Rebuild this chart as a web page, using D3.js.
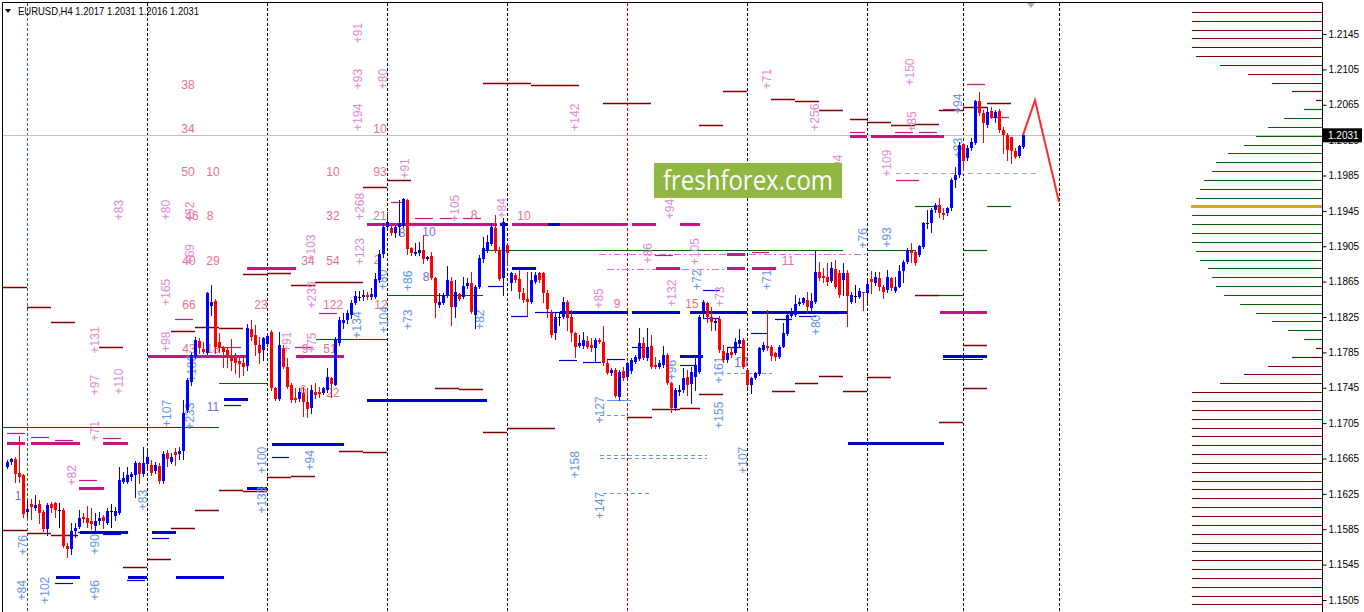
<!DOCTYPE html>
<html><head><meta charset="utf-8">
<script src="https://cdn.jsdelivr.net/npm/d3@7"></script>
<style>
body{margin:0;background:#fff;overflow:hidden}
svg{display:block}
text{font-family:"Liberation Sans",Arial,sans-serif}
</style></head>
<body><svg id="c" width="1364" height="612"></svg>
<script>
// ---------- DATA ----------
const symbol = "EURUSD", timeframe = "H4";
const open = [1.1655,1.1661,1.1664,1.1649,1.1646,1.1605,1.1614,1.1609,1.1614,1.1605,1.1585,1.1614,1.1615,1.1607,1.1607,1.1566,1.1563,1.1583,1.1588,1.1599,1.1598,1.1594,1.1589,1.1594,1.1599,1.1592,1.1606,1.1600,1.1603,1.1638,1.1638,1.1644,1.1646,1.1660,1.1648,1.1659,1.1658,1.1651,1.1656,1.1640,1.1671,1.1661,1.1672,1.1670,1.1673,1.1720,1.1751,1.1780,1.1798,1.1789,1.1784,1.1837,1.1843,1.1797,1.1791,1.1788,1.1780,1.1779,1.1775,1.1773,1.1770,1.1811,1.1805,1.1793,1.1788,1.1795,1.1808,1.1745,1.1732,1.1790,1.1768,1.1748,1.1733,1.1732,1.1739,1.1729,1.1722,1.1740,1.1740,1.1739,1.1742,1.1756,1.1748,1.1796,1.1818,1.1822,1.1827,1.1841,1.1848,1.1848,1.1850,1.1848,1.1848,1.1867,1.1896,1.1927,1.1926,1.1920,1.1927,1.1928,1.1957,1.1903,1.1896,1.1897,1.1901,1.1891,1.1894,1.1869,1.1839,1.1841,1.1850,1.1866,1.1836,1.1851,1.1848,1.1860,1.1863,1.1827,1.1859,1.1891,1.1901,1.1908,1.1926,1.1901,1.1869,1.1906,1.1863,1.1872,1.1868,1.1852,1.1845,1.1842,1.1865,1.1875,1.1875,1.1852,1.1830,1.1807,1.1825,1.1825,1.1842,1.1825,1.1807,1.1792,1.1792,1.1798,1.1793,1.1790,1.1799,1.1797,1.1773,1.1762,1.1765,1.1735,1.1764,1.1757,1.1764,1.1774,1.1777,1.1796,1.1779,1.1792,1.1771,1.1768,1.1771,1.1782,1.1750,1.1722,1.1740,1.1742,1.1757,1.1749,1.1757,1.1763,1.1832,1.1841,1.1825,1.1818,1.1823,1.1787,1.1776,1.1785,1.1784,1.1795,1.1799,1.1765,1.1748,1.1756,1.1761,1.1788,1.1792,1.1791,1.1784,1.1780,1.1791,1.1806,1.1826,1.1827,1.1840,1.1841,1.1844,1.1835,1.1842,1.1876,1.1871,1.1870,1.1866,1.1879,1.1875,1.1867,1.1875,1.1842,1.1849,1.1848,1.1853,1.1852,1.1868,1.1863,1.1869,1.1859,1.1856,1.1869,1.1854,1.1859,1.1877,1.1887,1.1900,1.1899,1.1895,1.1904,1.1930,1.1931,1.1946,1.1952,1.1943,1.1943,1.1948,1.1980,1.1986,1.2021,1.2005,1.2016,1.2022,1.2069,1.2056,1.2042,1.2058,1.2050,1.2058,1.2036,1.2031,1.2029,1.2013,1.2007,1.2017];
const high = [1.1663,1.1666,1.1667,1.1690,1.1647,1.1618,1.1619,1.1624,1.1618,1.1607,1.1615,1.1616,1.1616,1.1615,1.1609,1.1569,1.1592,1.1592,1.1607,1.1603,1.1611,1.1609,1.1603,1.1605,1.1601,1.1609,1.1614,1.1610,1.1655,1.1650,1.1655,1.1650,1.1662,1.1661,1.1678,1.1677,1.1663,1.1661,1.1660,1.1673,1.1675,1.1671,1.1677,1.1678,1.1731,1.1756,1.1784,1.1802,1.1801,1.1797,1.1853,1.1861,1.1845,1.1807,1.1792,1.1790,1.1800,1.1784,1.1780,1.1781,1.1817,1.1822,1.1816,1.1802,1.1802,1.1807,1.1810,1.1746,1.1808,1.1793,1.1779,1.1750,1.1745,1.1745,1.1746,1.1745,1.1748,1.1750,1.1746,1.1746,1.1767,1.1757,1.1802,1.1825,1.1830,1.1833,1.1844,1.1854,1.1854,1.1856,1.1853,1.1858,1.1875,1.1901,1.1931,1.1944,1.1928,1.1929,1.1957,1.1960,1.1958,1.1904,1.1909,1.1910,1.1918,1.1894,1.1899,1.1870,1.1852,1.1852,1.1883,1.1870,1.1867,1.1852,1.1870,1.1869,1.1876,1.1861,1.1895,1.1915,1.1918,1.1931,1.1940,1.1904,1.1937,1.1909,1.1876,1.1875,1.1878,1.1858,1.1876,1.1876,1.1876,1.1876,1.1876,1.1856,1.1833,1.1830,1.1831,1.1848,1.1844,1.1833,1.1808,1.1805,1.1808,1.1804,1.1801,1.1801,1.1801,1.1815,1.1776,1.1767,1.1767,1.1765,1.1768,1.1774,1.1779,1.1782,1.1813,1.1802,1.1813,1.1805,1.1780,1.1776,1.1792,1.1784,1.1752,1.1745,1.1748,1.1767,1.1765,1.1768,1.1779,1.1827,1.1844,1.1842,1.1836,1.1824,1.1826,1.1793,1.1790,1.1791,1.1801,1.1811,1.1801,1.1766,1.1757,1.1763,1.1791,1.1797,1.1833,1.1793,1.1785,1.1793,1.1818,1.1830,1.1835,1.1850,1.1847,1.1848,1.1853,1.1852,1.1900,1.1887,1.1880,1.1886,1.1887,1.1889,1.1878,1.1886,1.1878,1.1853,1.1861,1.1858,1.1853,1.1867,1.1877,1.1876,1.1876,1.1861,1.1878,1.1870,1.1870,1.1884,1.1889,1.1903,1.1909,1.1901,1.1906,1.1932,1.1946,1.1948,1.1954,1.1960,1.1948,1.1949,1.1982,1.1995,1.2023,1.2022,1.2019,1.2027,1.2070,1.2079,1.2059,1.2062,1.2062,1.2059,1.2060,1.2040,1.2033,1.2029,1.2016,1.2019,1.2031];
const low = [1.1654,1.1659,1.1638,1.1638,1.1599,1.1599,1.1597,1.1607,1.1592,1.1583,1.1578,1.1605,1.1599,1.1588,1.1565,1.1554,1.1557,1.1576,1.1586,1.1593,1.1588,1.1585,1.1583,1.1591,1.1586,1.1591,1.1588,1.1595,1.1602,1.1637,1.1637,1.1641,1.1621,1.1637,1.1645,1.1655,1.1646,1.1649,1.1637,1.1637,1.1656,1.1660,1.1658,1.1664,1.1664,1.1718,1.1748,1.1779,1.1784,1.1784,1.1783,1.1827,1.1784,1.1785,1.1768,1.1768,1.1765,1.1762,1.1757,1.1759,1.1765,1.1799,1.1782,1.1773,1.1776,1.1792,1.1742,1.1731,1.1731,1.1767,1.1745,1.1729,1.1729,1.1730,1.1713,1.1712,1.1716,1.1733,1.1734,1.1738,1.1740,1.1735,1.1748,1.1793,1.1813,1.1818,1.1824,1.1840,1.1844,1.1844,1.1845,1.1845,1.1846,1.1865,1.1893,1.1923,1.1918,1.1915,1.1918,1.1927,1.1896,1.1895,1.1895,1.1895,1.1886,1.1889,1.1868,1.1825,1.1836,1.1840,1.1848,1.1816,1.1825,1.1844,1.1846,1.1858,1.1830,1.1813,1.1858,1.1887,1.1899,1.1906,1.1899,1.1867,1.1850,1.1884,1.1856,1.1865,1.1846,1.1842,1.1827,1.1841,1.1863,1.1865,1.1842,1.1825,1.1802,1.1800,1.1816,1.1824,1.1810,1.1798,1.1780,1.1791,1.1790,1.1790,1.1787,1.1774,1.1796,1.1771,1.1761,1.1759,1.1735,1.1731,1.1754,1.1756,1.1762,1.1773,1.1776,1.1777,1.1776,1.1767,1.1767,1.1767,1.1768,1.1749,1.1718,1.1720,1.1737,1.1740,1.1737,1.1728,1.1742,1.1762,1.1825,1.1819,1.1810,1.1810,1.1785,1.1774,1.1774,1.1780,1.1783,1.1791,1.1767,1.1746,1.1739,1.1755,1.1759,1.1787,1.1788,1.1776,1.1776,1.1779,1.1791,1.1805,1.1825,1.1826,1.1839,1.1840,1.1831,1.1833,1.1841,1.1867,1.1865,1.1861,1.1865,1.1858,1.1848,1.1850,1.1815,1.1841,1.1842,1.1846,1.1833,1.1842,1.1852,1.1861,1.1856,1.1846,1.1853,1.1856,1.1853,1.1859,1.1865,1.1886,1.1887,1.1884,1.1894,1.1903,1.1926,1.1921,1.1944,1.1938,1.1936,1.1940,1.1946,1.1972,1.1983,1.1991,1.2003,1.2014,1.2021,1.2053,1.2023,1.2040,1.2050,1.2045,1.2034,1.2010,1.2003,1.1999,1.2005,1.2006,1.2016];
const close = [1.1661,1.1664,1.1648,1.1644,1.1602,1.1608,1.1610,1.1612,1.1603,1.1585,1.1612,1.1609,1.1607,1.1607,1.1566,1.1563,1.1583,1.1586,1.1598,1.1597,1.1592,1.1591,1.1594,1.1598,1.1594,1.1606,1.1606,1.1606,1.1641,1.1643,1.1646,1.1648,1.1660,1.1648,1.1660,1.1667,1.1649,1.1658,1.1640,1.1670,1.1664,1.1667,1.1669,1.1673,1.1716,1.1754,1.1782,1.1799,1.1790,1.1785,1.1852,1.1842,1.1791,1.1790,1.1785,1.1780,1.1775,1.1773,1.1772,1.1768,1.1813,1.1802,1.1793,1.1784,1.1801,1.1804,1.1745,1.1732,1.1793,1.1768,1.1746,1.1731,1.1731,1.1740,1.1729,1.1721,1.1742,1.1737,1.1738,1.1745,1.1757,1.1749,1.1800,1.1822,1.1822,1.1830,1.1841,1.1849,1.1848,1.1850,1.1848,1.1851,1.1868,1.1896,1.1927,1.1932,1.1920,1.1927,1.1931,1.1958,1.1902,1.1897,1.1899,1.1901,1.1891,1.1893,1.1869,1.1841,1.1842,1.1850,1.1867,1.1836,1.1853,1.1845,1.1860,1.1863,1.1831,1.1859,1.1892,1.1903,1.1910,1.1927,1.1900,1.1868,1.1932,1.1897,1.1875,1.1867,1.1853,1.1844,1.1842,1.1867,1.1872,1.1867,1.1852,1.1834,1.1805,1.1825,1.1825,1.1842,1.1824,1.1807,1.1791,1.1796,1.1799,1.1791,1.1790,1.1799,1.1797,1.1773,1.1762,1.1765,1.1736,1.1763,1.1756,1.1773,1.1776,1.1780,1.1796,1.1779,1.1791,1.1768,1.1768,1.1773,1.1782,1.1750,1.1722,1.1742,1.1742,1.1756,1.1748,1.1763,1.1770,1.1825,1.1842,1.1825,1.1819,1.1820,1.1788,1.1776,1.1784,1.1782,1.1797,1.1799,1.1768,1.1748,1.1756,1.1762,1.1790,1.1793,1.1790,1.1781,1.1780,1.1791,1.1807,1.1827,1.1830,1.1840,1.1842,1.1847,1.1836,1.1843,1.1876,1.1869,1.1869,1.1865,1.1880,1.1859,1.1850,1.1875,1.1849,1.1850,1.1849,1.1854,1.1852,1.1862,1.1865,1.1870,1.1859,1.1853,1.1870,1.1858,1.1859,1.1877,1.1887,1.1901,1.1897,1.1886,1.1905,1.1931,1.1931,1.1946,1.1952,1.1943,1.1940,1.1948,1.1980,1.1986,1.2019,1.2001,1.2016,1.2023,1.2069,1.2056,1.2044,1.2057,1.2051,1.2057,1.2036,1.2031,1.2014,1.2013,1.2006,1.2018,1.2031];

const priceTicks = [1.2145,1.2105,1.2065,1.2025,1.1985,1.1945,1.1905,1.1865,1.1825,1.1785,1.1745,1.1705,1.1665,1.1625,1.1585,1.1545,1.1505];
const currentPrice = 1.2031;

// week separators (bar index)
const separators = [5,35,65,95,125,155,185,215,239,263];
const separatorKind = ["g","k","k","k","k","r","k","k","k","k"];

// volume profile (price level, volume)
const profilePrice = [1.2170,1.2160,1.2150,1.2140,1.2130,1.2120,1.2110,1.2100,1.2090,1.2080,1.2070,1.2060,1.2050,1.2040,1.2030,1.2020,1.2010,1.2000,1.1990,1.1980,1.1970,1.1960,1.1950,1.1940,1.1930,1.1920,1.1910,1.1900,1.1890,1.1880,1.1870,1.1860,1.1850,1.1840,1.1830,1.1820,1.1810,1.1800,1.1790,1.1780,1.1770,1.1760,1.1750,1.1740,1.1730,1.1720,1.1710,1.1700,1.1690,1.1680,1.1670,1.1660,1.1650,1.1640,1.1630,1.1620,1.1610,1.1600,1.1590,1.1580,1.1570,1.1560,1.1550,1.1540,1.1530,1.1520,1.1510,1.1500];
const profileVol = [130,130,130,130,130,126,102,74,50,30,6,18,38,54,66,78,94,106,110,118,122,126,131,130,130,130,130,126,122,114,110,106,98,82,66,50,34,18,6,30,54,78,102,130,130,130,130,130,130,130,130,130,130,130,130,130,130,130,130,130,130,130,130,130,130,130,130,130];
const valueAreaHigh = 1.2060, valueAreaLow = 1.1800, pocPrice = 1.1950;

// level segments: [startBar, endBar, price]
const segMaroon = [[-1.75,5,1.1859],[5,11,1.1836],[11,17,1.1819],[23,29,1.1791],[-1,5,1.1584],[5,11,1.1581],[11,17.75,1.1578],[17.75,30.25,1.1582],[29,35,1.1542],[35,41,1.1551],[41,47,1.1586],[47,53,1.1607],[53,59,1.1629],[59,65,1.1628],[65,71,1.1644],[71,77,1.1645],[83,89,1.1673],[89,95,1.1672],[41,47,1.1809],[47,53,1.1814],[53,59,1.1813],[59,65,1.1874],[65,71,1.1875],[71,77,1.1861],[77,89,1.1865],[89,95,1.1972],[95.25,101,1.1980],[107,113,1.1745],[113,119,1.1744],[119,125,1.1695],[125,137,1.1699],[119,131,1.2090],[131,143,1.2087],[149,161,1.2067],[173,179,1.2042],[179,185,1.2081],[191,197,1.2071],[197,203,1.2069],[203,209,1.2059],[155,161.25,1.1712],[161.25,168.25,1.1721],[168.25,173.25,1.1722],[173,179,1.1738],[191.25,197,1.1741],[197,202.75,1.1750],[203,209,1.1758],[209,215,1.1741],[215,221,1.1757],[210.75,215,1.2049],[215,221,1.2046],[221,227,1.2042],[227,233,1.2043],[233,239,1.2059],[239,245,1.2062],[245,251,1.2067],[233,239,1.1706],[239,245,1.1745],[239,245,1.1793],[227,233,1.1850]];
const segMagThick = [[0,4.5,1.1683],[6,18.25,1.1683],[24,30.25,1.1683],[18,24.25,1.1632],[35.25,60,1.1781],[72.25,84.25,1.1781],[60,72.25,1.1880],[90,122.5,1.1930],[126.25,135.25,1.1930],[138.25,155.25,1.1930],[156.25,162.25,1.1930],[168.25,173.25,1.1930],[162.25,168.25,1.1880],[180,184.5,1.1880],[186.25,192.25,1.1880],[180,184.5,1.1896],[210.75,215,1.2030],[216,234.25,1.2030],[233.25,245,1.1831]];
const segMagThin = [[0,4.5,1.1694],[6,10.5,1.1689],[12,16.5,1.1686],[24,28.5,1.1688],[18,22.5,1.1641],[42,46.5,1.1823],[53,58.5,1.1791],[72,76.5,1.1791],[78,82.5,1.1830],[96,99.5,1.1955],[102,106.5,1.1937],[108.25,112.5,1.1937],[114,118.5,1.1937],[162,166.5,1.1895],[186.25,190.5,1.1899],[210.75,214.5,1.2034],[222,226.5,1.2034],[228,232.5,1.2034],[234,238.25,1.2060],[245.75,250.5,1.2051],[240,244.5,1.2088],[222.25,228,1.1980]];
const segBlueThick = [[18.25,30.25,1.1582],[12.25,18.25,1.1531],[30.25,35,1.1531],[36.25,42.25,1.1582],[42.25,54.25,1.1531],[66.25,84.25,1.1681],[60,65,1.1632],[54.25,60.25,1.1732],[90,120,1.1731],[123.25,125,1.1930],[126.25,132.25,1.1880],[135.25,138.25,1.1930],[138.25,155.25,1.1831],[156.25,168.25,1.1831],[170.75,185,1.1831],[186.25,210,1.1831],[168.25,174,1.1781],[210.25,234.25,1.1683],[234,245,1.1781]];
const segBlueThin = [[24,28.5,1.1580],[12,16.5,1.1524],[30,34.5,1.1528],[36.25,40.5,1.1575],[66.25,70.5,1.1667],[54.25,58.5,1.1726],[120.25,124.25,1.1860],[126,130.25,1.1826],[132,138.25,1.1831],[138,142.5,1.1776],[144,148.5,1.1774],[150,154.5,1.1777],[156.25,158.75,1.1791],[168.25,172.5,1.1771],[174,178.25,1.1856],[174,178.25,1.1824],[180,184,1.1791],[186,190,1.1807],[192,196.25,1.1823],[198,202.25,1.1826],[204,208.25,1.1830],[234,244,1.1778]];
const segGreen = [[-1,53,1.1701],[53,65,1.1750],[77.25,95,1.1800],[95.25,119,1.1850],[119,209,1.1901],[215,227,1.1901],[239,245,1.1901],[227,233,1.1950],[245,251,1.1950],[233,239,1.1850]];
const segPinkDash = [[150,179.5,1.1879],[148,215,1.1896]];
const segGreyDash = [[222.25,258.25,1.1988]];
const segBlueDash = [[148.25,155,1.1714],[180,191.25,1.1762],[182.5,185.75,1.1780],[148.25,175,1.1669],[148.25,175,1.1665],[149,161,1.1626]];
const segBlueLine = [[150,156,1.1731]];

// labels: [text, bar, price]
const lblSalmon = [["38",45.25,1.2087],["34",45.25,1.2038],["50",45.25,1.1989],["10",51.5,1.1989],["46",46.25,1.1939],["8",50.75,1.1939],["40",45.5,1.1888],["29",51.5,1.1888],["66",45.5,1.1839],["23",63.5,1.1839],["43",45.5,1.1789],["18",51.5,1.1789],["10",81.5,1.1989],["32",81.5,1.1939],["34",75.25,1.1888],["54",81.5,1.1888],["122",81.5,1.1839],["51",80.75,1.1789],["9",74.5,1.1789],["22",81.5,1.1739],["6",74,1.1742],["21",93.25,1.1939],["2",92.5,1.1889],["12",93.5,1.1839],["10",93.25,1.2038],["93",93.25,1.1989],["8",116.75,1.1940],["10",129.25,1.1939],["9",152.5,1.1840],["15",171.25,1.1840],["11",195.25,1.1888]];
const lblLavender = [["11",51.5,1.1723],["10",105.5,1.1921],["8",98.75,1.1920],["8",104.75,1.1870],["1",2.75,1.1623],["10",183.5,1.1773]];
const lblPinkV = [["+91",87.75,1.2146],["+93",87.75,1.2094],["+80",94,1.2094],["+194",87.75,1.2051],["+142",142,1.2051],["+71",190,1.2094],["+150",225.75,1.2102],["+256",202,1.2051],["+85",226.25,1.2046],["+109",220,1.1999],["+83",28,1.1946],["+80",39.75,1.1946],["+92",45.75,1.1944],["+268",88.25,1.1950],["+123",88.25,1.1899],["+105",112,1.1948],["+84",123.75,1.1948],["+94",165.75,1.1947],["+94",207.75,1.1997],["+91",99.5,1.1993],["+86",160.25,1.1897],["+105",172,1.1899],["+132",166.25,1.1852],["+73",178.25,1.1848],["+85",148,1.1846],["+69",45.75,1.1896],["+165",39.75,1.1853],["+98",39.75,1.1797],["+103",76,1.1903],["+239",76.25,1.1850],["+75",76.25,1.1796],["+91",70,1.1797],["+131",22,1.1799],["+97",22,1.1748],["+110",28,1.1752],["+71",22,1.1696],["+82",16.25,1.1646]];
const lblBlueV = [["+76",4,1.1567],["+84",3.75,1.1516],["+102",9.5,1.1516],["+96",22,1.1516],["+90",22,1.1568],["+83",34,1.1618],["+107",40,1.1716],["+233",45.75,1.1713],["+186",46.25,1.1767],["+100",63.75,1.1663],["+133",63.75,1.1618],["+94",75.75,1.1663],["+134",87.5,1.1816],["+104",94.25,1.1822],["+80",94,1.1867],["+86",100.25,1.1866],["+73",100.25,1.1822],["+82",118.25,1.1822],["+127",148.25,1.1720],["+158",142,1.1658],["+147",148.25,1.1612],["+155",178,1.1714],["+107",184,1.1663],["+161",178,1.1765],["+72",172.5,1.1867],["+96",166.25,1.1765],["+71",190,1.1867],["+80",202.25,1.1816],["+76",214,1.1914],["+93",220,1.1915],["+83",237.75,1.2016],["+94",237.75,1.2066]];

// forecast path
const forecastBar = [254,257,263];
const forecastPrice = [1.2031,1.2070,1.1955];

// ---------- DRAW ----------
const W=1364,H=612,R=1322;
const x=d3.scaleLinear().domain([0,254]).range([7,1023]);
const y=d3.scaleLinear().domain([1.1505,1.2145]).range([600,34]);
const svg=d3.select("#c");
svg.append("rect").attr("width",W).attr("height",H).attr("fill","#fff");
svg.append("defs").append("clipPath").attr("id","clip").append("rect").attr("x",3).attr("y",3).attr("width",R-3).attr("height",H-3);
const g=svg.append("g").attr("clip-path","url(#clip)");
const py=p=>Math.round(y(p))+0.5;

// separators
const sepColor={g:"#1e6b1e",k:"#000",r:"#c00000"};
g.append("g").selectAll("line").data(separators).join("line")
 .attr("x1",d=>Math.round(x(d))+0.5).attr("x2",d=>Math.round(x(d))+0.5)
 .attr("y1",3).attr("y2",H).attr("stroke",(d,i)=>sepColor[separatorKind[i]])
 .attr("stroke-dasharray","3,2");

// current price line
g.append("line").attr("x1",3).attr("x2",R).attr("y1",py(currentPrice)).attr("y2",py(currentPrice)).attr("stroke","#c0c0c0");

// profile
const xv=d3.scaleLinear().domain([0,130]).range([R,R-130]);
g.append("g").selectAll("line").data(profilePrice).join("line")
 .attr("x1",(d,i)=>xv(profileVol[i])).attr("x2",R)
 .attr("y1",d=>py(d)).attr("y2",d=>py(d))
 .attr("stroke",d=>Math.abs(d-pocPrice)<1e-6?"#daa520":(d<=valueAreaHigh+1e-6&&d>=valueAreaLow-1e-6?"#006400":"#800000"))
 .attr("stroke-width",d=>Math.abs(d-pocPrice)<1e-6?3:1.2);

function segs(arr,color,w,dash){
  g.append("g").selectAll("line").data(arr).join("line")
   .attr("x1",d=>x(d[0])).attr("x2",d=>x(d[1]))
   .attr("y1",d=>py(d[2])).attr("y2",d=>py(d[2]))
   .attr("stroke",color).attr("stroke-width",w).attr("stroke-dasharray",dash||null);
}
segs(segGreen,"#006400",1.2);
segs(segPinkDash,"#da70d6",1,"7,3,2,3");
segs(segGreyDash,"#b898b8",1,"5,4");
segs(segBlueDash,"#6495ed",1,"4,3");
segs(segBlueLine,"#6495ed",1);
segs(segMaroon,"#800000",1.5);
segs(segMagThin,"#c71585",1.2);
segs(segMagThick,"#c71585",3);
segs(segBlueThin,"#0000cd",1.2);
segs(segBlueThick,"#0000cd",3);

// labels
function hl(arr,color){
  g.append("g").selectAll("text").data(arr).join("text")
   .attr("x",d=>x(d[1])).attr("y",d=>y(d[2]))
   .attr("text-anchor","middle").attr("dominant-baseline","central")
   .attr("font-size",12).attr("fill",color).text(d=>d[0]);
}
function vl(arr,color){
  g.append("g").selectAll("text").data(arr).join("text")
   .attr("transform",d=>`translate(${x(d[1])},${y(d[2])}) rotate(-90)`)
   .attr("text-anchor","middle").attr("dominant-baseline","central")
   .attr("font-size",12).attr("fill",color).text(d=>d[0]);
}
hl(lblSalmon,"#e8728e");
hl(lblLavender,"#7070e0");
vl(lblPinkV,"#e08ad0");
vl(lblBlueV,"#6495ed");

// candles
const idx=d3.range(open.length);
const col=i=>close[i]>open[i]?"#0000ff":(close[i]<open[i]?"#ff0000":"#000");
const cg=g.append("g").attr("shape-rendering","crispEdges");
cg.selectAll("line").data(idx).join("line")
 .attr("x1",i=>Math.round(x(i))+0.5).attr("x2",i=>Math.round(x(i))+0.5)
 .attr("y1",i=>Math.round(y(high[i]))).attr("y2",i=>Math.round(y(low[i]))+1)
 .attr("stroke",col);
cg.selectAll("rect").data(idx).join("rect")
 .attr("x",i=>Math.round(x(i))-1).attr("width",3)
 .attr("y",i=>Math.round(y(Math.max(open[i],close[i]))))
 .attr("height",i=>Math.max(1,Math.round(y(Math.min(open[i],close[i])))-Math.round(y(Math.max(open[i],close[i])))))
 .attr("fill",col);

// forecast
g.append("path").datum(forecastBar.map((b,i)=>[x(b),y(forecastPrice[i])]))
 .attr("d",d3.line()).attr("fill","none").attr("stroke","#ff2a2a").attr("stroke-width",2);

// watermark
const wm=svg.append("g");
wm.append("rect").attr("x",654).attr("y",163).attr("width",188).attr("height",35).attr("fill","#8fb741");
wm.append("text").attr("x",748).attr("y",190).attr("text-anchor","middle").attr("font-size",27)
 .attr("fill","#fff").style("font-family","'Open Sans',sans-serif").attr("textLength",170).attr("lengthAdjust","spacingAndGlyphs").text("freshforex.com");

// shift marker
svg.append("path").attr("d",`M${x(256)-4},3 L${x(256)+4},3 L${x(256)},8 Z`).attr("fill","#b0b0b0");

// frame
svg.append("path").attr("d",`M2.5,${H} V2.5 H${R+0.5} V${H}`).attr("fill","none").attr("stroke","#000");

// axis
const ax=svg.append("g").attr("transform",`translate(${R+0.5},0)`)
 .call(d3.axisRight(y).tickValues(priceTicks).tickFormat(d3.format(".4f")).tickSize(4).tickSizeOuter(0));
ax.select(".domain").remove();
ax.selectAll("text").attr("font-size",10).attr("fill","#000").attr("x",6).style("font-family","'Liberation Sans',Arial");
ax.selectAll("line").attr("stroke","#000");

// current price label (covers the tick label beneath it, as in the terminal)
svg.append("rect").attr("x",R+1).attr("y",y(currentPrice)-6.5).attr("width",39).attr("height",14).attr("fill","#000");
svg.append("text").attr("x",R+6).attr("y",y(currentPrice)+0.5).attr("dominant-baseline","central")
 .attr("font-size",10).attr("fill","#fff").text(d3.format(".4f")(currentPrice));

// title
svg.append("path").attr("d","M5,9 L11,9 L8,13 Z").attr("fill","#000");
svg.append("text").attr("x",18).attr("y",15).attr("font-size",11).attr("fill","#000")
 .attr("textLength",181).attr("lengthAdjust","spacingAndGlyphs")
 .text(`${symbol},${timeframe}  ${d3.format(".4f")(open[254])} ${d3.format(".4f")(high[254])} ${d3.format(".4f")(low[254])} ${d3.format(".4f")(close[254])}`);
</script></body></html>
